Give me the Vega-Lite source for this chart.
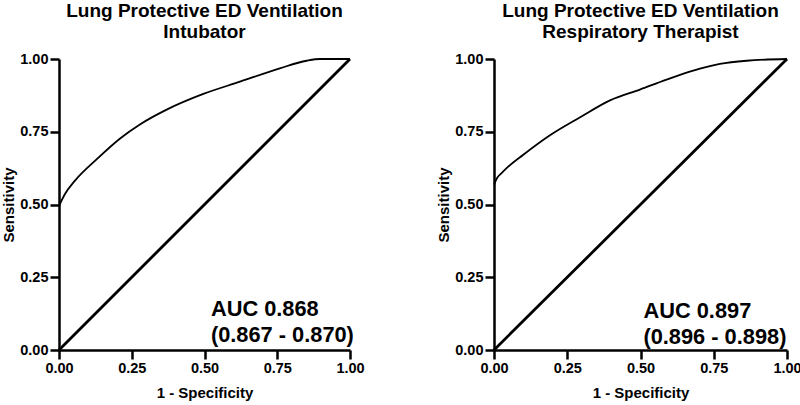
{
  "$schema": "https://vega.github.io/schema/vega-lite/v6.json",
  "padding": {"left": 1, "top": 2, "right": 0, "bottom": 0},
  "background": "white",
  "datasets": {
    "roc": [
      {"panel": "I", "series": "roc", "fpr": 0, "tpr": 0.495},
      {"panel": "I", "series": "roc", "fpr": 0.02, "tpr": 0.535},
      {"panel": "I", "series": "roc", "fpr": 0.055, "tpr": 0.582},
      {"panel": "I", "series": "roc", "fpr": 0.13, "tpr": 0.656},
      {"panel": "I", "series": "roc", "fpr": 0.21, "tpr": 0.727},
      {"panel": "I", "series": "roc", "fpr": 0.278, "tpr": 0.775},
      {"panel": "I", "series": "roc", "fpr": 0.37, "tpr": 0.826},
      {"panel": "I", "series": "roc", "fpr": 0.496, "tpr": 0.88},
      {"panel": "I", "series": "roc", "fpr": 0.622, "tpr": 0.922},
      {"panel": "I", "series": "roc", "fpr": 0.759, "tpr": 0.968},
      {"panel": "I", "series": "roc", "fpr": 0.851, "tpr": 0.994},
      {"panel": "I", "series": "roc", "fpr": 0.897, "tpr": 1.0},
      {"panel": "I", "series": "roc", "fpr": 1, "tpr": 1.0},
      {"panel": "I", "series": "ref", "fpr": 0, "tpr": 0},
      {"panel": "I", "series": "ref", "fpr": 1, "tpr": 1},
      {"panel": "R", "series": "roc", "fpr": 0, "tpr": 0.568},
      {"panel": "R", "series": "roc", "fpr": 0.01, "tpr": 0.59},
      {"panel": "R", "series": "roc", "fpr": 0.026, "tpr": 0.608},
      {"panel": "R", "series": "roc", "fpr": 0.043, "tpr": 0.625},
      {"panel": "R", "series": "roc", "fpr": 0.1, "tpr": 0.671},
      {"panel": "R", "series": "roc", "fpr": 0.191, "tpr": 0.738},
      {"panel": "R", "series": "roc", "fpr": 0.294, "tpr": 0.8},
      {"panel": "R", "series": "roc", "fpr": 0.396, "tpr": 0.858},
      {"panel": "R", "series": "roc", "fpr": 0.498, "tpr": 0.895},
      {"panel": "R", "series": "roc", "fpr": 0.589, "tpr": 0.929},
      {"panel": "R", "series": "roc", "fpr": 0.68, "tpr": 0.96},
      {"panel": "R", "series": "roc", "fpr": 0.771, "tpr": 0.983},
      {"panel": "R", "series": "roc", "fpr": 0.862, "tpr": 0.994},
      {"panel": "R", "series": "roc", "fpr": 1, "tpr": 1.0},
      {"panel": "R", "series": "ref", "fpr": 0, "tpr": 0},
      {"panel": "R", "series": "ref", "fpr": 1, "tpr": 1}
    ],
    "auc": [
      {"panel": "I", "fpr": 0.522, "tpr": 0.117, "label": "AUC 0.868\n(0.867 - 0.870)"},
      {"panel": "R", "fpr": 0.51, "tpr": 0.11, "label": "AUC 0.897\n(0.896 - 0.898)"}
    ]
  },
  "config": {
    "font": "Liberation Sans",
    "view": {"stroke": null},
    "axis": {
      "grid": false,
      "domainColor": "black",
      "domainWidth": 2.5,
      "tickColor": "black",
      "tickWidth": 2.5,
      "tickSize": 9,
      "labelFont": "Liberation Sans",
      "labelFontSize": 14.5,
      "labelFontWeight": "bold",
      "labelColor": "black",
      "labelFlush": false,
      "labelOverlap": false,
      "labelPadding": 2,
      "titleFont": "Liberation Sans",
      "titleFontSize": 15,
      "titleFontWeight": "bold",
      "titleColor": "black"
    },
    "axisX": {"titlePadding": 11},
    "axisY": {"titlePadding": 3},
    "title": {
      "font": "Liberation Sans",
      "fontSize": 19,
      "fontWeight": "bold",
      "color": "black",
      "anchor": "middle",
      "lineHeight": 21,
      "offset": 9
    }
  },
  "hconcat": [
    {
      "title": {"text": ["Lung Protective ED Ventilation", "Intubator"]},
      "width": 291,
      "height": 291,
      "layer": [
        {
          "data": {"name": "roc"},
          "transform": [{"filter": "datum.panel === 'I' && datum.series === 'roc'"}],
          "mark": {"type": "line", "color": "black", "strokeWidth": 1.8, "interpolate": "monotone"},
          "encoding": {
            "x": {"field": "fpr", "type": "quantitative", "scale": {"domain": [0, 1], "nice": false}, "title": "1 - Specificity", "axis": {"values": [0, 0.25, 0.5, 0.75, 1], "format": ".2f"}},
            "y": {"field": "tpr", "type": "quantitative", "scale": {"domain": [0, 1], "nice": false}, "title": "Sensitivity", "axis": {"values": [0, 0.25, 0.5, 0.75, 1], "format": ".2f"}}
          }
        },
        {
          "data": {"name": "roc"},
          "transform": [{"filter": "datum.panel === 'I' && datum.series === 'ref'"}],
          "mark": {"type": "line", "color": "black", "strokeWidth": 2.8},
          "encoding": {
            "x": {"field": "fpr", "type": "quantitative"},
            "y": {"field": "tpr", "type": "quantitative"}
          }
        },
        {
          "data": {"name": "auc"},
          "transform": [{"filter": "datum.panel === 'I'"}],
          "mark": {"type": "text", "align": "left", "baseline": "alphabetic", "fontSize": 21.8, "fontWeight": "bold", "lineHeight": 26, "lineBreak": "\n", "color": "black", "font": "Liberation Sans"},
          "encoding": {
            "x": {"field": "fpr", "type": "quantitative"},
            "y": {"field": "tpr", "type": "quantitative"},
            "text": {"field": "label"}
          }
        }
      ]
    },
    {
      "title": {"text": ["Lung Protective ED Ventilation", "Respiratory Therapist"]},
      "width": 293,
      "height": 291,
      "layer": [
        {
          "data": {"name": "roc"},
          "transform": [{"filter": "datum.panel === 'R' && datum.series === 'roc'"}],
          "mark": {"type": "line", "color": "black", "strokeWidth": 1.8, "interpolate": "monotone"},
          "encoding": {
            "x": {"field": "fpr", "type": "quantitative", "scale": {"domain": [0, 1], "nice": false}, "title": "1 - Specificity", "axis": {"values": [0, 0.25, 0.5, 0.75, 1], "format": ".2f"}},
            "y": {"field": "tpr", "type": "quantitative", "scale": {"domain": [0, 1], "nice": false}, "title": "Sensitivity", "axis": {"values": [0, 0.25, 0.5, 0.75, 1], "format": ".2f"}}
          }
        },
        {
          "data": {"name": "roc"},
          "transform": [{"filter": "datum.panel === 'R' && datum.series === 'ref'"}],
          "mark": {"type": "line", "color": "black", "strokeWidth": 2.8},
          "encoding": {
            "x": {"field": "fpr", "type": "quantitative"},
            "y": {"field": "tpr", "type": "quantitative"}
          }
        },
        {
          "data": {"name": "auc"},
          "transform": [{"filter": "datum.panel === 'R'"}],
          "mark": {"type": "text", "align": "left", "baseline": "alphabetic", "fontSize": 21.8, "fontWeight": "bold", "lineHeight": 26, "lineBreak": "\n", "color": "black", "font": "Liberation Sans"},
          "encoding": {
            "x": {"field": "fpr", "type": "quantitative"},
            "y": {"field": "tpr", "type": "quantitative"},
            "text": {"field": "label"}
          }
        }
      ]
    }
  ],
  "spacing": 144,
  "bounds": "flush"
}
